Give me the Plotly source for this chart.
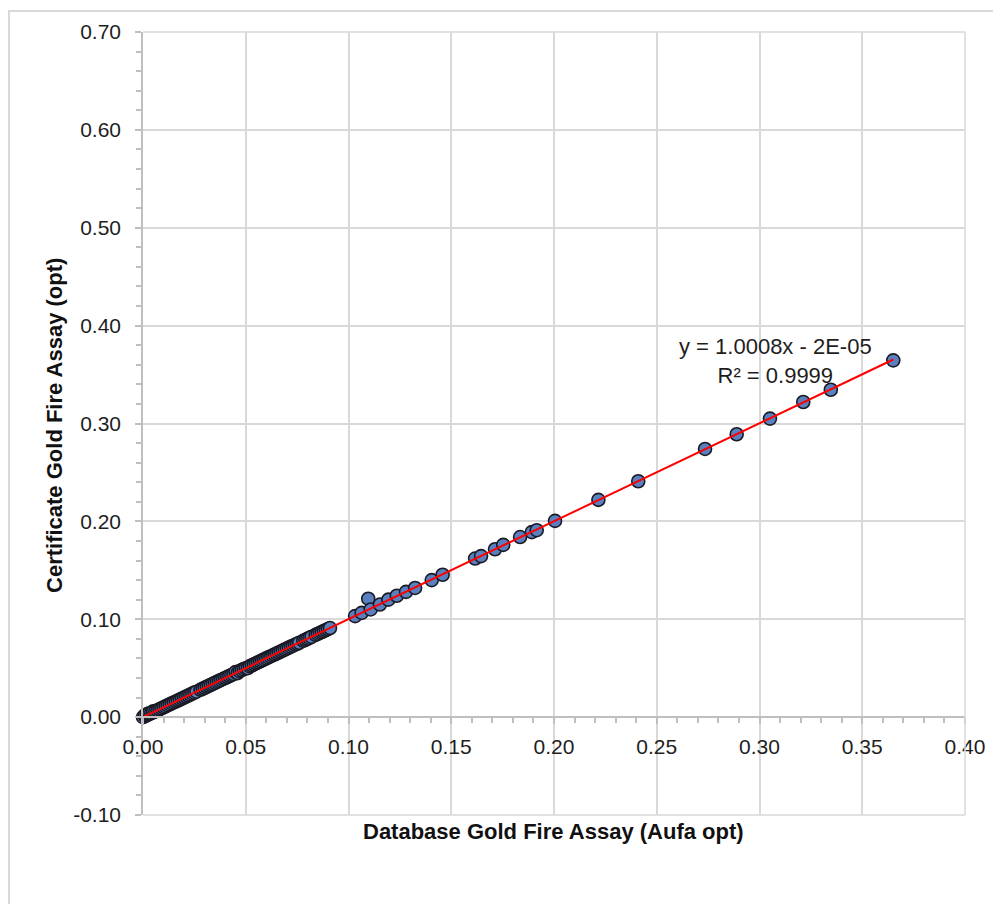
import numpy as np
import plotly.graph_objects as go

# Database (x) vs Certificate (y) gold fire assay values, opt
db_au = [0.000, 0.001, 0.001, 0.002, 0.002, 0.003, 0.003, 0.004, 0.005, 0.005,
         0.006, 0.007, 0.008, 0.009, 0.010, 0.011, 0.012, 0.013, 0.014, 0.015,
         0.016, 0.017, 0.018, 0.019, 0.020, 0.021, 0.022, 0.023, 0.024, 0.025,
         0.026, 0.028, 0.029, 0.030, 0.031, 0.032, 0.033, 0.034, 0.035, 0.036,
         0.037, 0.038, 0.039, 0.040, 0.041, 0.042, 0.043, 0.044, 0.045, 0.046,
         0.047, 0.048, 0.049, 0.050, 0.051, 0.052, 0.053, 0.054, 0.055, 0.056,
         0.057, 0.058, 0.059, 0.060, 0.061, 0.062, 0.063, 0.064, 0.065, 0.066,
         0.067, 0.068, 0.069, 0.070, 0.071, 0.072, 0.073, 0.074, 0.075, 0.076,
         0.078, 0.079, 0.080, 0.081, 0.082, 0.084, 0.085, 0.086, 0.087, 0.088,
         0.089, 0.090, 0.091,
         0.1032, 0.1064, 0.1096, 0.1108, 0.1153, 0.1194, 0.1235, 0.1280, 0.1324,
         0.1405, 0.1458, 0.1616, 0.1645, 0.1713, 0.1753, 0.1835, 0.1892, 0.1916,
         0.2005, 0.2216, 0.2410, 0.2735, 0.2889, 0.3051, 0.3213, 0.3347, 0.3651]
cert_au = [0.000, 0.001, 0.002, 0.002, 0.003, 0.003, 0.004, 0.004, 0.005, 0.006,
           0.006, 0.007, 0.008, 0.009, 0.010, 0.011, 0.012, 0.013, 0.014, 0.015,
           0.016, 0.017, 0.018, 0.019, 0.020, 0.021, 0.022, 0.023, 0.024, 0.025,
           0.026, 0.028, 0.029, 0.030, 0.031, 0.032, 0.033, 0.034, 0.035, 0.036,
           0.037, 0.038, 0.039, 0.040, 0.041, 0.042, 0.043, 0.044, 0.046, 0.045,
           0.047, 0.048, 0.049, 0.050, 0.050, 0.052, 0.053, 0.054, 0.055, 0.056,
           0.057, 0.058, 0.059, 0.060, 0.061, 0.062, 0.063, 0.064, 0.065, 0.066,
           0.067, 0.068, 0.069, 0.070, 0.071, 0.072, 0.073, 0.074, 0.075, 0.076,
           0.078, 0.079, 0.080, 0.081, 0.082, 0.084, 0.085, 0.086, 0.087, 0.088,
           0.089, 0.090, 0.091,
           0.1032, 0.1065, 0.1210, 0.1100, 0.1150, 0.1200, 0.1240, 0.1280, 0.1320,
           0.1400, 0.1455, 0.1620, 0.1645, 0.1715, 0.1760, 0.1840, 0.1890, 0.1910,
           0.2005, 0.2220, 0.2410, 0.2740, 0.2890, 0.3050, 0.3220, 0.3345, 0.3645]

slope = 1.0008
intercept = -0.00002
eq_text = "y = 1.0008x - 2E-05"
r2_text = "R² = 0.9999"

x_title = "Database Gold Fire Assay (Aufa opt)"
y_title = "Certificate Gold Fire Assay (opt)"

x_range = [0.0, 0.40]
y_range = [-0.10, 0.70]
y_tickvals = [-0.10, 0.00, 0.10, 0.20, 0.30, 0.40, 0.50, 0.60, 0.70]
y_ticktext = ["-0.10", "0.00", "0.10", "0.20", "0.30", "0.40", "0.50", "0.60", "0.70"]

fig = go.Figure()
fig.add_trace(go.Scatter(
    x=db_au, y=cert_au, mode="markers", cliponaxis=False,
    marker=dict(size=13, color="#5a80bf", line=dict(color="#1a1a24", width=1.6)),
    showlegend=False, hoverinfo="x+y"))

xl = np.array([min(db_au), max(db_au)])
fig.add_trace(go.Scatter(
    x=xl, y=slope * xl + intercept, mode="lines", cliponaxis=False,
    line=dict(color="#ff0000", width=2), showlegend=False, hoverinfo="skip"))

# page offset (body margin) is 8px
OFF = 8
W, H = 1001 - OFF, 904 - OFF
PL, PR, PT, PB = 143, 965, 30, 815   # plot area in page pixels
ml, mr, mt, mb = PL - OFF, (OFF + W) - PR, PT - OFF, (OFF + H) - PB
pw, ph = PR - PL, PB - PT

def px_to_paper_x(px):
    return (px - PL) / pw

def px_to_paper_y(py):
    return (PB - py) / ph

grid = "#d9d9d9"
fig.update_layout(
    width=W, height=H,
    margin=dict(l=ml, r=mr, t=mt, b=mb, pad=0),
    paper_bgcolor="white", plot_bgcolor="white",
    font=dict(family="Liberation Sans, Arial, sans-serif", size=21, color="#1e1e1e"),
    xaxis=dict(range=x_range, dtick=0.05, tick0=0, tickformat=".2f",
               showgrid=True, gridcolor=grid, gridwidth=1.5,
               zeroline=False, showline=True, linecolor="#bfbfbf", linewidth=1.5,
               anchor="free", position=(0 - y_range[0]) / (y_range[1] - y_range[0]),
               ticks="outside", ticklen=6, tickcolor="#bfbfbf", tickwidth=1.5,
               ticklabelstandoff=5,
               minor=dict(dtick=0.01, ticks="outside", ticklen=5,
                          tickcolor="#bfbfbf", showgrid=False),
               tickfont=dict(size=21, color="#1e1e1e")),
    yaxis=dict(range=y_range, tickmode="array", tickvals=y_tickvals, ticktext=y_ticktext,
               showgrid=True, gridcolor=grid, gridwidth=1.5,
               zeroline=False, showline=True, linecolor="#bfbfbf", linewidth=1.5,
               ticks="outside", ticklen=6, tickcolor="#bfbfbf", tickwidth=1.5,
               ticklabelstandoff=10,
               minor=dict(dtick=0.02, tick0=0, ticks="outside", ticklen=5,
                          tickcolor="#bfbfbf", showgrid=False),
               tickfont=dict(size=21, color="#1e1e1e")),
)

# grid borders at top/right/bottom
fig.add_shape(type="line", xref="paper", yref="paper", x0=0, x1=1, y0=1, y1=1,
              line=dict(color=grid, width=1.5))
fig.add_shape(type="line", xref="paper", yref="paper", x0=1, x1=1, y0=0, y1=1,
              line=dict(color=grid, width=1.5))
fig.add_shape(type="line", xref="paper", yref="paper", x0=0, x1=1, y0=0, y1=0,
              line=dict(color=grid, width=1.5))

# chart-area border
fig.add_shape(type="rect", xref="paper", yref="paper",
              x0=px_to_paper_x(OFF + 1), x1=px_to_paper_x(1020),
              y0=px_to_paper_y(930), y1=px_to_paper_y(OFF + 1),
              line=dict(color="#d9d9d9", width=2), layer="below")

fig.add_annotation(x=0.308, y=0.364, xref="x", yref="y",
                   text=eq_text + "<br>" + r2_text, showarrow=False,
                   xanchor="center", yanchor="middle",
                   align="center", font=dict(size=22, color="#1e1e1e"))

fig.add_annotation(x=px_to_paper_x(553), y=px_to_paper_y(832), xref="paper", yref="paper",
                   text="<b>" + x_title + "</b>", showarrow=False,
                   xanchor="center", yanchor="middle",
                   font=dict(size=22, color="#111111"))
fig.add_annotation(x=px_to_paper_x(55), y=px_to_paper_y(425), xref="paper", yref="paper",
                   text="<b>" + y_title + "</b>", showarrow=False, textangle=-90,
                   xanchor="center", yanchor="middle",
                   font=dict(size=22, color="#111111"))

fig.write_html("out.html")
